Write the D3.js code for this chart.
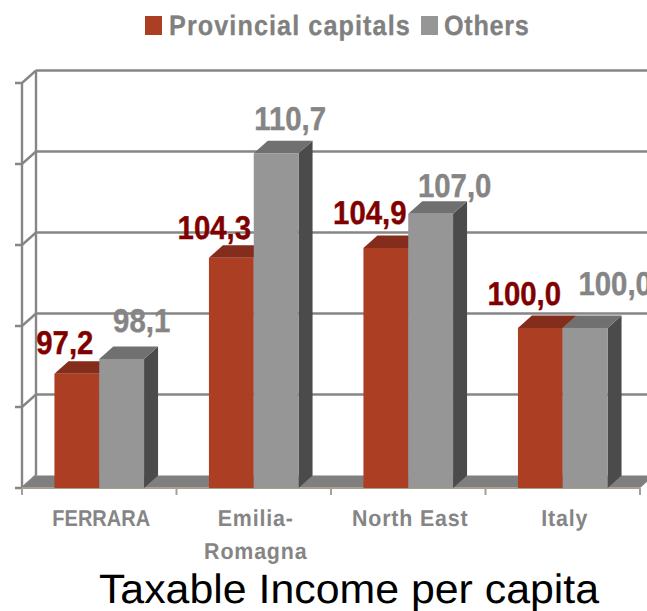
<!DOCTYPE html>
<html><head><meta charset="utf-8">
<script src="https://cdn.jsdelivr.net/npm/d3@7"></script>
<style>html,body{margin:0;padding:0;background:#fff;overflow:hidden}svg{display:block}text{font-family:"Liberation Sans",Arial,sans-serif;text-rendering:geometricPrecision}</style>
</head><body><svg id="c" width="647" height="611"></svg>
<script>
const categories = ["FERRARA","Emilia-Romagna","North East","Italy"];
const seriesNames = ["Provincial capitals","Others"];
const provincialCapitals = [97.2,104.3,104.9,100.0];
const others = [98.1,110.7,107.0,100.0];
const tickValues = [90.2,95.16,100.12,105.08,110.04,115];
const title = "Taxable Income per capita";

const fronts=["#AC3F23","#969696"], tops=["#842D1C","#707070"], labelCols=["#800000","#858585"];
const sideCol="#4B4B4B", gridCol="#868686", depthX=14, depthY=-12.5;
const svg=d3.select("#c");
const x0=d3.scaleBand().domain(categories).range([22,640]).paddingInner(.42).paddingOuter(.21);
const x1=d3.scaleBand().domain(seriesNames).range([0,x0.bandwidth()]);
const y=d3.scaleLinear().domain([90.2,115]).range([488,83]);
const base=y.domain()[0];
const step=x0.step(), bandStart=c=>x0(c)-x0.paddingOuter()*step;

const g=svg.append("g").attr("fill","none").attr("stroke",gridCol).attr("stroke-width",2.4);
g.append("path").attr("d",`M22,${y(base)}V${y(115)}`);
g.append("path").attr("d",`M${22+depthX},${y(base)+depthY}V${y(115)+depthY}`);
tickValues.forEach(t=>{
  if(t>base) g.append("path").attr("d",`M${22+depthX},${y(t)+depthY}H647`);
  g.append("path").attr("d",`M15,${y(t)}H22L${22+depthX},${y(t)+depthY}`);
});
svg.append("polygon").attr("fill","#7F7F7F")
  .attr("points",[[22,y(base)],[22+depthX,y(base)+depthY],[640+depthX,y(base)+depthY],[640,y(base)]].join(" "));
const axisG=svg.append("g").attr("stroke","#A8A08F").attr("stroke-width",2);
axisG.append("path").attr("d",`M22,${y(base)}H640`);
[...categories.map(bandStart),640].forEach(px=>axisG.append("path").attr("d",`M${px},${y(base)}V495`));

const data=[provincialCapitals,others];
categories.forEach((c,i)=>{
  seriesNames.forEach((s,k)=>{
    const v=data[k][i], l=x0(c)+x1(s), r=l+x1.bandwidth(), t=y(v), b=y(base);
    const bg=svg.append("g");
    bg.append("polygon").attr("fill",sideCol).attr("points",[[r,t],[r+depthX,t+depthY],[r+depthX,b+depthY],[r,b]].join(" "));
    bg.append("polygon").attr("fill",tops[k]).attr("points",[[l,t],[l+depthX,t+depthY],[r+depthX,t+depthY],[r,t]].join(" "));
    bg.append("rect").attr("x",l).attr("y",t).attr("width",r-l).attr("height",b-t).attr("fill",fronts[k]);
  });
});

function stext(txt,cx,by,size,fill,sx,weight,anchor,ls,sw){
  const t=svg.append("text").attr("transform",`translate(${cx},${by}) scale(${sx},1)`)
    .attr("text-anchor",anchor||"middle").attr("font-size",size).attr("font-weight",weight||"bold").attr("fill",fill).text(txt);
  if(ls) t.attr("letter-spacing",ls);
  if(sw) t.attr("stroke",fill).attr("stroke-width",sw);
  return t;
}
const nudgeX=[[-12,-17,-16,-16],[20,14,24,30]];
const nudgeY=[[-20,-19,-24,-23],[-27,-23,-17,-33]];
categories.forEach((c,i)=>seriesNames.forEach((s,k)=>{
  const v=data[k][i];
  stext(d3.format(".1f")(v).replace(".",","),x0(c)+x1(s)+x1.bandwidth()/2+nudgeX[k][i],y(v)+nudgeY[k][i],33,labelCols[k],.89,"bold","middle",0,.4);
}));
categories.forEach(c=>{
  const cx=bandStart(c)+step/2;
  const ls=c==="FERRARA"?0:.9;
  if(c.includes("-")){
    const [a,b]=c.split("-");
    stext(a+"-",cx+2,526,23,"#858585",.93,"bold","middle",ls);
    stext(b,cx+2,559,23,"#858585",.93,"bold","middle",ls);
  } else stext(c,cx+2,526,23,"#858585",c==="FERRARA"?.87:.93,"bold","middle",ls);
});
svg.append("rect").attr("x",145).attr("y",16).attr("width",17).attr("height",19).attr("fill",fronts[0]);
svg.append("rect").attr("x",421).attr("y",16).attr("width",17).attr("height",19).attr("fill",fronts[1]);
stext(seriesNames[0],169,35,28,"#808080",.9,"bold","start",1.2,.3);
stext(seriesNames[1],444,35,28,"#808080",.9,"bold","start",.8,.3);
stext(title,349,603,41,"#000",1.045,"normal");
</script></body></html>
